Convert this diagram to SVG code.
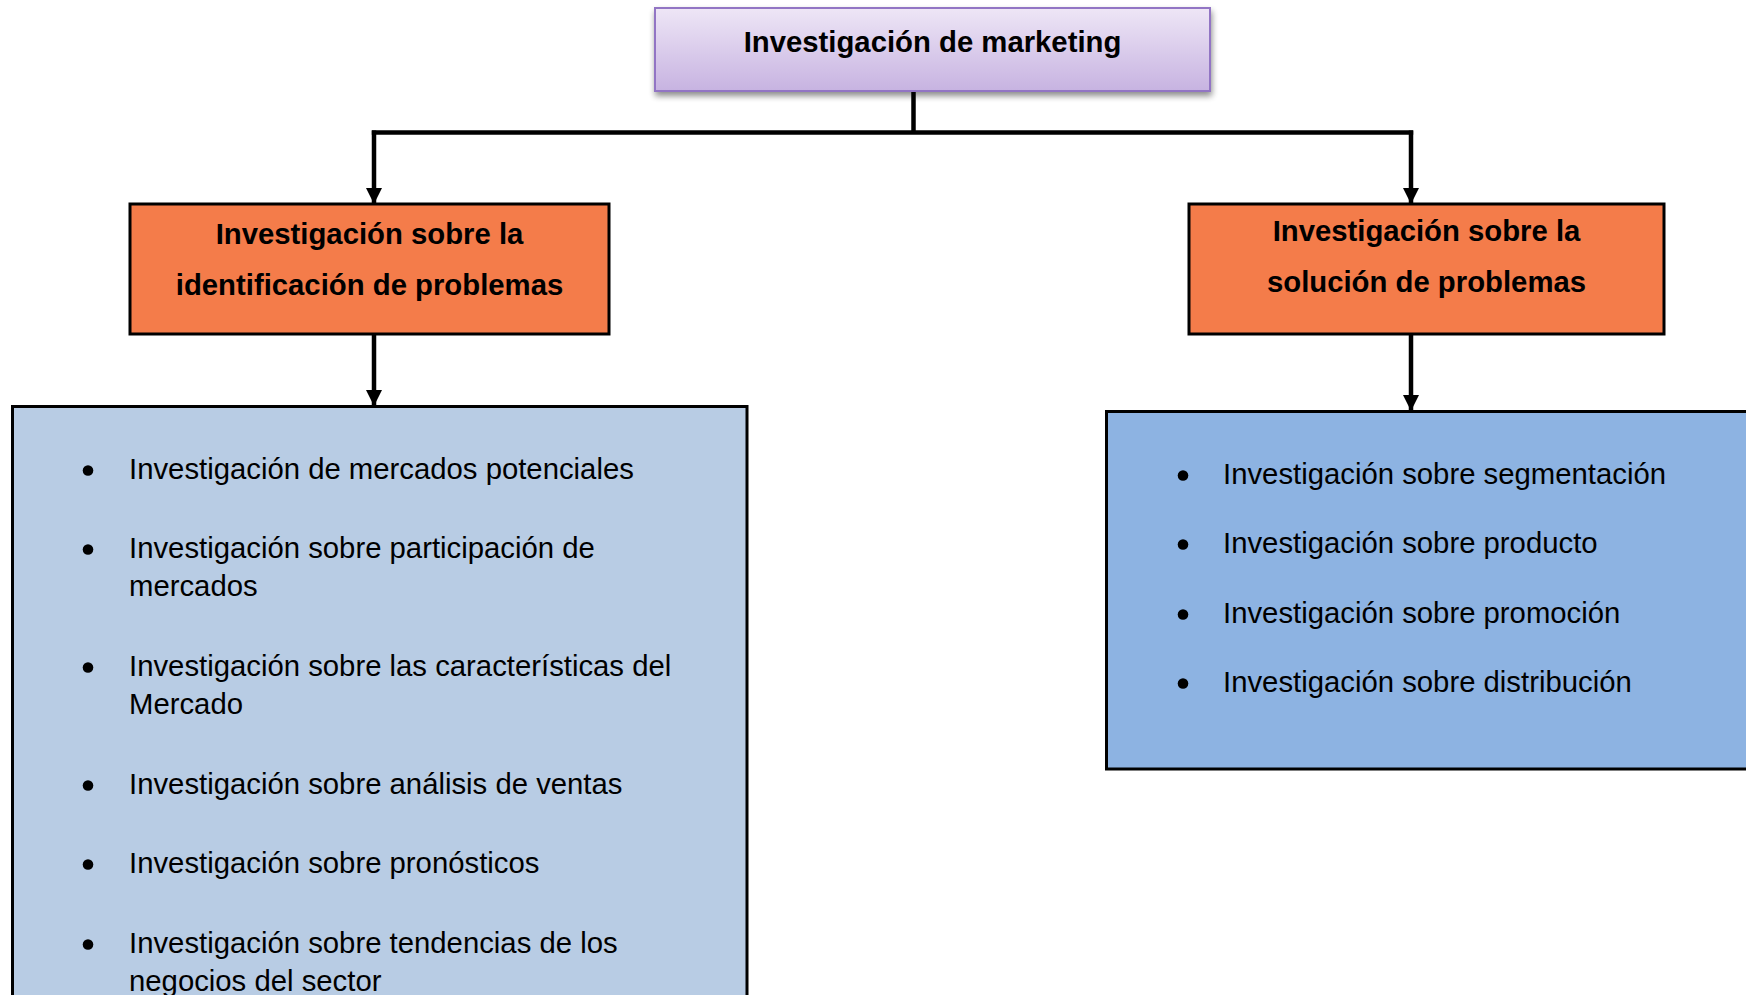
<svg xmlns="http://www.w3.org/2000/svg" width="1746" height="995" viewBox="0 0 1746 995">
<style>
.bold{font-family:"Liberation Sans",Arial,sans-serif;font-weight:bold;font-size:29.3px;fill:#000;text-anchor:middle}
.reg{font-family:"Liberation Sans",Arial,sans-serif;font-size:29.3px;fill:#000}
.orange{fill:#f47c4a;stroke:#000;stroke-width:3}
.conn{fill:none;stroke:#000;stroke-width:4.5}
</style>
<defs>
<linearGradient id="purp" x1="0" y1="0" x2="0" y2="1">
<stop offset="0" stop-color="#eee6f6"/>
<stop offset="1" stop-color="#c7b3e1"/>
</linearGradient>
<filter id="shadow" x="-5%" y="-20%" width="115%" height="160%">
<feGaussianBlur in="SourceAlpha" stdDeviation="3"/>
<feOffset dx="1" dy="4" result="b"/>
<feComponentTransfer><feFuncA type="linear" slope="0.45"/></feComponentTransfer>
<feMerge><feMergeNode/><feMergeNode in="SourceGraphic"/></feMerge>
</filter>
<marker id="arrow" viewBox="0 0 16 16" markerWidth="16" markerHeight="16" refX="16" refY="8" orient="auto" markerUnits="userSpaceOnUse">
<path d="M0,0 L16,8 L0,16 z" fill="#000"/>
</marker>
</defs>
<rect width="1746" height="995" fill="#fff"/>

<g id="connectors">
<path class="conn" d="M913.5,91 V132.5"/>
<path class="conn" d="M371.8,132.5 H1413.2"/>
<path class="conn" d="M374,130.5 V204" marker-end="url(#arrow)"/>
<path class="conn" d="M1411,130.5 V204" marker-end="url(#arrow)"/>
<path class="conn" d="M374,334 V406" marker-end="url(#arrow)"/>
<path class="conn" d="M1411,334 V411" marker-end="url(#arrow)"/>
</g>

<g id="node-root">
<rect x="655" y="8" width="555" height="83" fill="url(#purp)" stroke="#9275c4" stroke-width="2" filter="url(#shadow)"/>
<text class="bold" x="932.5" y="52">Investigación de marketing</text>
</g>

<g id="node-identificacion">
<rect class="orange" x="130" y="204" width="479" height="130"/>
<text class="bold" x="369.5" y="244">Investigación sobre la</text>
<text class="bold" x="369.5" y="295">identificación de problemas</text>
</g>

<g id="node-solucion">
<rect class="orange" x="1189" y="204" width="475" height="130"/>
<text class="bold" x="1426.5" y="241">Investigación sobre la</text>
<text class="bold" x="1426.5" y="292">solución de problemas</text>
</g>

<g id="node-lista-identificacion">
<rect x="12.5" y="406.5" width="734.5" height="600" fill="#b8cce4" stroke="#000" stroke-width="3"/>
<g fill="#000">
<circle cx="88" cy="470.5" r="5.3"/>
<circle cx="88" cy="549.5" r="5.3"/>
<circle cx="88" cy="667.5" r="5.3"/>
<circle cx="88" cy="785.5" r="5.3"/>
<circle cx="88" cy="864.5" r="5.3"/>
<circle cx="88" cy="944.5" r="5.3"/>
</g>
<text class="reg" x="129" y="479">Investigación de mercados potenciales</text>
<text class="reg" x="129" y="558">Investigación sobre participación de</text>
<text class="reg" x="129" y="596">mercados</text>
<text class="reg" x="129" y="676">Investigación sobre las características del</text>
<text class="reg" x="129" y="714">Mercado</text>
<text class="reg" x="129" y="794">Investigación sobre análisis de ventas</text>
<text class="reg" x="129" y="873">Investigación sobre pronósticos</text>
<text class="reg" x="129" y="953">Investigación sobre tendencias de los</text>
<text class="reg" x="129" y="991">negocios del sector</text>
</g>

<g id="node-lista-solucion">
<rect x="1106.5" y="411.5" width="660" height="357.5" fill="#8db3e2" stroke="#000" stroke-width="3"/>
<g fill="#000">
<circle cx="1183" cy="475.5" r="5.3"/>
<circle cx="1183" cy="544.5" r="5.3"/>
<circle cx="1183" cy="614.5" r="5.3"/>
<circle cx="1183" cy="683.5" r="5.3"/>
</g>
<text class="reg" x="1223" y="484">Investigación sobre segmentación</text>
<text class="reg" x="1223" y="553">Investigación sobre producto</text>
<text class="reg" x="1223" y="623">Investigación sobre promoción</text>
<text class="reg" x="1223" y="692">Investigación sobre distribución</text>
</g>
</svg>
